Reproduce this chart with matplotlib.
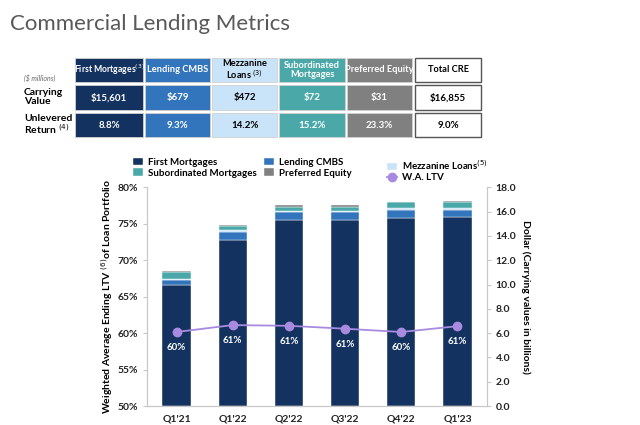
import matplotlib
matplotlib.use("Agg")
import matplotlib.pyplot as plt
from matplotlib.patches import Rectangle
import numpy as np

plt.rcParams['font.family'] = ['Lato', 'DejaVu Sans']

# ---------------- data ----------------
quarters = ["Q1'21", "Q1'22", "Q2'22", "Q3'22", "Q4'22", "Q1'23"]
first_mortgages = [9.93, 13.66, 15.31, 15.30, 15.50, 15.56]
lending_cmbs = [0.42, 0.69, 0.63, 0.64, 0.66, 0.60]
mezzanine = [0.10, 0.14, 0.11, 0.11, 0.11, 0.16]
subordinated = [0.58, 0.32, 0.35, 0.35, 0.50, 0.49]
preferred = [0.11, 0.09, 0.14, 0.14, 0.04, 0.06]
wa_ltv = [60.15, 61.1, 61.0, 60.6, 60.15, 60.95]
ltv_labels = ["60%", "61%", "61%", "61%", "60%", "61%"]

table_headers = ["First Mortgages$^{(3)}$", "Lending CMBS", "Mezzanine\nLoans$^{\\ (3)}$",
                 "Subordinated\nMortgages", "Preferred Equity", "Total CRE"]
carrying_values = ["$15,601", "$679", "$472", "$72", "$31", "$16,855"]
unlevered_returns = ["8.8%", "9.3%", "14.2%", "15.2%", "23.3%", "9.0%"]

# ---------------- styles ----------------
c_fm = "#14325f"
c_cmbs = "#3375bd"
c_mezz = "#c9e3f8"
c_sub = "#4aa8a8"
c_pref = "#808080"
c_ltv = "#a88be0"
cell_colors = [c_fm, c_cmbs, c_mezz, c_sub, c_pref, "white"]
text_colors = ["white", "white", "black", "white", "white", "black"]

W, H = 640, 425
fig = plt.figure(figsize=(6.4, 4.25), dpi=100)


def fx(x):
    return x / W


def fy(y):
    return 1 - y / H


# title
fig.text(fx(10), fy(24), "Commercial Lending Metrics", fontsize=16, color="#595959",
         fontweight="normal", ha="left", va="center")

# table
col_x = [75, 145, 212, 279, 347, 415]
col_w = [68, 65, 65, 66, 65, 66]
rows_y = [(58, 82), (85, 110), (113, 137)]
row_texts = [table_headers, carrying_values, unlevered_returns]
for r, (y0, y1) in enumerate(rows_y):
    for c in range(6):
        total = c == 5
        rect = Rectangle((fx(col_x[c]), fy(y1)), fx(col_w[c]), (y1 - y0) / H,
                         transform=fig.transFigure, facecolor=cell_colors[c],
                         edgecolor="#555555" if total else "#d0d0d0",
                         linewidth=1.0 if total else 0.6)
        fig.add_artist(rect)
        fs = 7
        if r == 0:
            fs = 6.2 if c == 0 else 6.7
        fig.text(fx(col_x[c] + col_w[c] / 2), fy((y0 + y1) / 2), row_texts[r][c],
                 ha="center", va="center", fontsize=fs,
                 fontweight="bold", color=text_colors[c], linespacing=1.0)

fig.text(fx(24), fy(78), "($ millions)", fontsize=5, style="italic", color="#666666",
         ha="left", va="center")
fig.text(fx(24), fy(97), "Carrying\nValue", fontsize=7.5, fontweight="bold",
         ha="left", va="center", linespacing=1.0)
fig.text(fx(24), fy(125), "Unlevered\nReturn$^{\\ (4)}$", fontsize=7.5, fontweight="bold",
         ha="left", va="center", linespacing=1.0)

# ---------------- chart ----------------
ax = fig.add_axes([fx(147.3), fy(406), fx(486.7 - 147.3), (406 - 187.3) / H])
x = np.arange(len(quarters))
bw = 0.5
series = [(first_mortgages, c_fm, "First Mortgages"),
          (lending_cmbs, c_cmbs, "Lending CMBS"),
          (mezzanine, c_mezz, "Mezzanine Loans$^{(5)}$"),
          (subordinated, c_sub, "Subordinated Mortgages"),
          (preferred, c_pref, "Preferred Equity")]
bottom = np.zeros(len(quarters))
handles = {}
for vals, col, lab in series:
    b = ax.bar(x, vals, bw, bottom=bottom, color=col, label=lab,
               edgecolor="white", linewidth=0.3)
    handles[lab] = b
    bottom += np.array(vals)

ax2 = ax.twinx()

ax.set_ylim(0, 18)
ax.set_xlim(-0.52, 5.52)
ax.yaxis.tick_right()
ax.yaxis.set_label_position("right")
ax.set_yticks(np.arange(0, 18.1, 2))
ax.set_yticklabels([f"{v:.1f}" for v in np.arange(0, 18.1, 2)])
ax.set_ylabel("Dollar (Carrying values in billions)", rotation=270, fontsize=7.5,
              fontweight="bold", labelpad=10)
ax.set_xticks(x)
ax.set_xticklabels(quarters)

ax2.yaxis.tick_left()
ax2.yaxis.set_label_position("left")
ln, = ax2.plot(x, wa_ltv, color=c_ltv, marker="o", markersize=6, linewidth=1.3,
               label="W.A. LTV", zorder=5)
ax2.set_ylim(50, 80)
ax2.set_yticks(np.arange(50, 81, 5))
ax2.set_yticklabels([f"{v}%" for v in range(50, 81, 5)])
ax2.set_ylabel("Weighted Average Ending LTV $^{(6)}$of Loan Portfolio", fontsize=7.5,
               fontweight="bold", labelpad=2)
for xi, v, t in zip(x, wa_ltv, ltv_labels):
    ax2.annotate(t, (xi, v), xytext=(0, -11), textcoords="offset points",
                 ha="center", va="center", color="white", fontsize=7, fontweight="bold")

for a in (ax, ax2):
    a.spines["top"].set_visible(False)
    for s in ("left", "right", "bottom"):
        a.spines[s].set_color("#c8c8c8")
    a.tick_params(axis="both", colors="#c8c8c8", labelcolor="#222222", labelsize=7.5,
                  length=3, width=0.8)
    for lbl in a.get_yticklabels() + a.get_xticklabels():
        lbl.set_fontweight("bold")
ax.tick_params(axis="x", length=0, pad=6)

# legend: three columns placed individually
leg_cols = [(135, ["First Mortgages", "Subordinated Mortgages"]),
            (266, ["Lending CMBS", "Preferred Equity"]),
            (389, ["Mezzanine Loans$^{(5)}$", "W.A. LTV"])]
for lx, labs in leg_cols:
    hs = [ln if l == "W.A. LTV" else handles[l] for l in labs]
    fig.legend(hs, labs, loc="upper left", bbox_to_anchor=(fx(lx - 6), fy(154)),
               frameon=False, handlelength=1.0, handleheight=0.8,
               handletextpad=0.6, labelspacing=0.15, borderaxespad=0,
               prop={"weight": "bold", "size": 7})

fig.savefig("out.png", dpi=100)
